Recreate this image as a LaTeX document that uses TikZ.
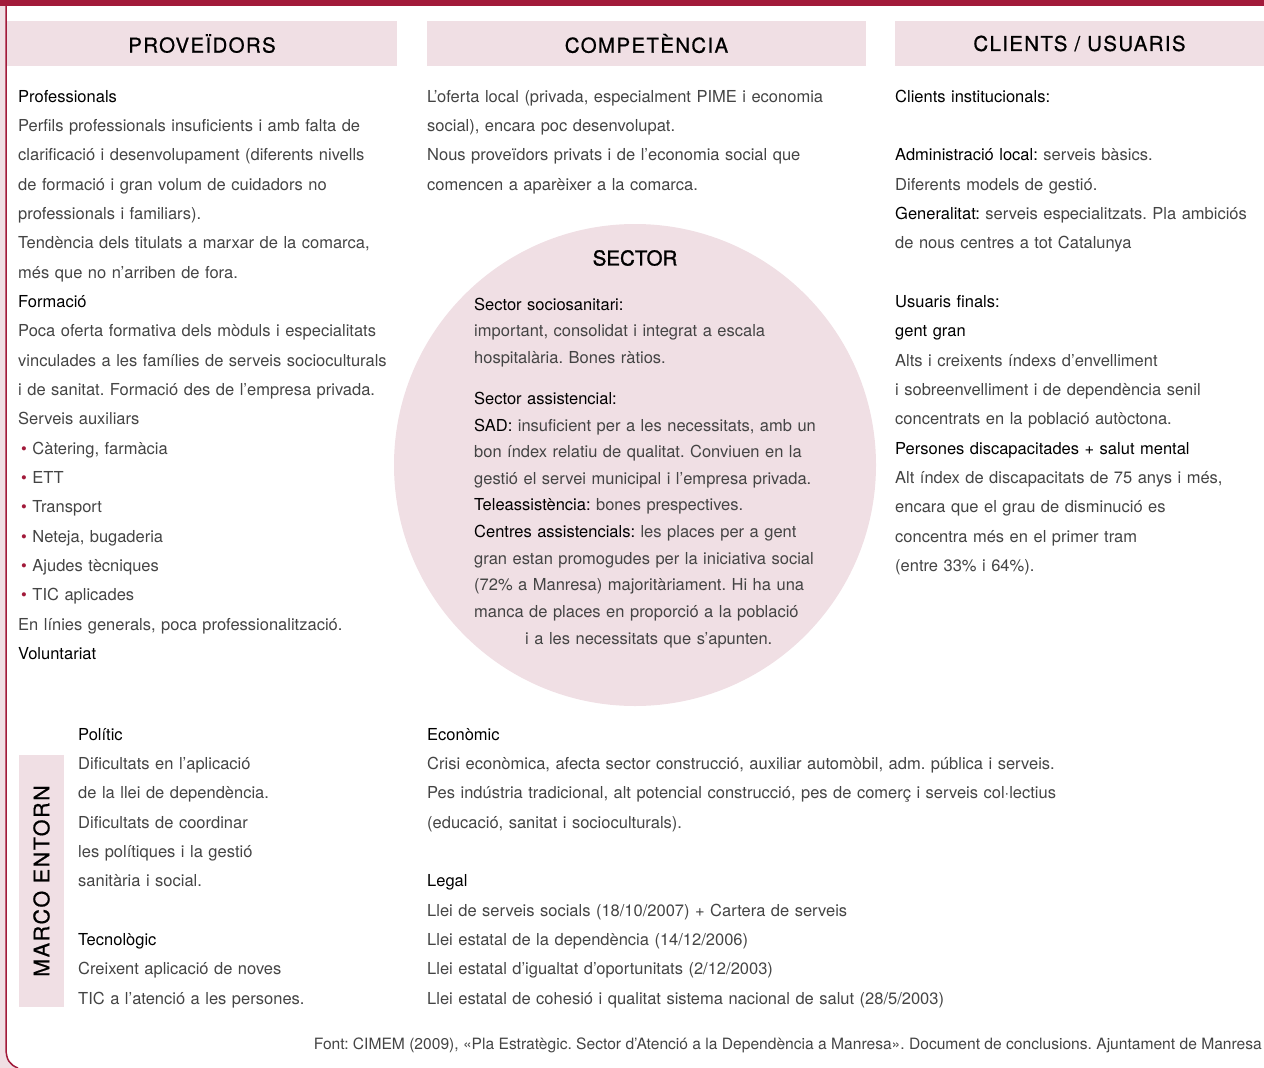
\documentclass[tikz,border=0pt]{standalone}
\usepackage{fontspec}
\setmainfont{TeX Gyre Heros}
\usetikzlibrary{positioning}

\definecolor{crimson}{RGB}{162,26,58}
\definecolor{pinkbg}{RGB}{240,223,228}
\definecolor{bodygray}{RGB}{68,68,68}

\newcommand{\hd}[1]{\textcolor{black}{#1}}
\newcommand{\bul}{\hspace*{3pt}\textcolor{crimson}{\textbullet}\ }
\frenchspacing

\tikzset{
  headbox/.style={fill=pinkbg, inner sep=0pt, text=black, font=\fontsize{20.5}{24}\selectfont\addfontfeature{LetterSpace=6.5,FakeBold=0.7}},
  txtblock/.style={anchor=base west, align=left, inner sep=0pt, text=bodygray, font=\fontsize{16.5}{29.35}\selectfont},
  circblock/.style={txtblock, font=\fontsize{16.5}{26.65}\selectfont},
}

\begin{document}
\begin{tikzpicture}[x=1pt, y=-1pt]
    \useasboundingbox (0,0) rectangle (1264,1068);

    % Frame
    \fill[crimson] (0,0) rectangle (1264,6);
    \fill[pinkbg] (0,6) -- (6,6) -- (6,1048) .. controls (6,1060) and (10,1065) .. (18,1068) -- (0,1068) -- cycle;
    \draw[crimson, line width=1.5pt] (6,6) -- (6,1048) .. controls (6,1060) and (10,1065) .. (18,1068);

    % Sector circle
    \fill[pinkbg] (635,465) circle (241pt);
    \node[font=\fontsize{20.5}{24}\selectfont\addfontfeature{FakeBold=1.2}, text=black] (sector) at (635,258) {SECTOR};
    \node[circblock, text width=370pt] (sectortxt) at (474,310) {\hd{Sector sociosanitari:}\\
        important, consolidat i integrat a escala\\
        hospitalària. Bones ràtios.\\[14.4pt]
        \hd{Sector assistencial:}\\
        \hd{SAD:} insuficient per a les necessitats, amb un\\
        bon índex relatiu de qualitat. Conviuen en la\\
        gestió el servei municipal i l’empresa privada.\\
        \hd{Teleassistència:} bones prespectives.\\
        \hd{Centres assistencials:} les places per a gent\\
        gran estan promogudes per la iniciativa social\\
        (72\% a Manresa) majoritàriament. Hi ha una\\
        manca de places en proporció a la població\\
        \hspace*{51pt}i a les necessitats que s’apunten.};

    % Headers
    \node[headbox, minimum width=390pt, minimum height=45pt] (prov) at (202,43.5) {PROVEÏDORS};
    \node[headbox, minimum width=439pt, minimum height=45pt] (comp) at (646.5,43.5) {COMPETÈNCIA};
    \node[headbox, minimum width=369pt, minimum height=45pt] (clients) at (1079.5,43.5) {CLIENTS / USUARIS};

    % Proveidors
    \node[txtblock, text width=385pt] (provtxt) at (18,102) {\hd{Professionals}\\
        Perfils professionals insuficients i amb falta de\\
        clarificació i desenvolupament (diferents nivells\\
        de formació i gran volum de cuidadors no\\
        professionals i familiars).\\
        Tendència dels titulats a marxar de la comarca,\\
        més que no n’arriben de fora.\\
        \hd{Formació}\\
        Poca oferta formativa dels mòduls i especialitats\\
        vinculades a les famílies de serveis socioculturals\\
        i de sanitat. Formació des de l’empresa privada.\\
        Serveis auxiliars\\
        \bul Càtering, farmàcia\\
        \bul ETT\\
        \bul Transport\\
        \bul Neteja, bugaderia\\
        \bul Ajudes tècniques\\
        \bul TIC aplicades\\
        En línies generals, poca professionalització.\\
        \hd{Voluntariat}};

    % Competencia
    \node[txtblock, text width=440pt] (comptxt) at (427,102) {L’oferta local (privada, especialment PIME i economia\\
        social), encara poc desenvolupat.\\
        Nous proveïdors privats i de l’economia social que\\
        comencen a aparèixer a la comarca.};

    % Clients / usuaris
    \node[txtblock, text width=369pt] (clitxt) at (895,102) {\hd{Clients institucionals:}\\[29.35pt]
        \hd{Administració local:} serveis bàsics.\\
        Diferents models de gestió.\\
        \hd{Generalitat:} serveis especialitzats. Pla ambiciós\\
        de nous centres a tot Catalunya\\[29.35pt]
        \hd{Usuaris finals:}\\
        \hd{gent gran}\\
        Alts i creixents índexs d’envelliment\\
        i sobreenvelliment i de dependència senil\\
        concentrats en la població autòctona.\\
        \hd{Persones discapacitades + salut mental}\\
        Alt índex de discapacitats de 75 anys i més,\\
        encara que el grau de disminució es\\
        concentra més en el primer tram\\
        (entre 33\% i 64\%).};

    % Marco entorn
    \node[headbox, rotate=90, minimum width=252pt, minimum height=45pt, font=\fontsize{21.5}{24}\selectfont\addfontfeature{LetterSpace=7.5,FakeBold=0.7}] (marco) at (41.5,881) {MARCO ENTORN};
    \node[txtblock, text width=320pt] (politic) at (78,740) {\hd{Polític}\\
        Dificultats en l’aplicació\\
        de la llei de dependència.\\
        Dificultats de coordinar\\
        les polítiques i la gestió\\
        sanitària i social.\\[29.35pt]
        \hd{Tecnològic}\\
        Creixent aplicació de noves\\
        TIC a l’atenció a les persones.};
    \node[txtblock, text width=820pt] (economic) at (427,740) {\hd{Econòmic}\\
        Crisi econòmica, afecta sector construcció, auxiliar automòbil, adm. pública i serveis.\\
        Pes indústria tradicional, alt potencial construcció, pes de comerç i serveis col·lectius\\
        (educació, sanitat i socioculturals).\\[29.35pt]
        \hd{Legal}\\
        Llei de serveis socials (18/10/2007) + Cartera de serveis\\
        Llei estatal de la dependència (14/12/2006)\\
        Llei estatal d’igualtat d’oportunitats (2/12/2003)\\
        Llei estatal de cohesió i qualitat sistema nacional de salut (28/5/2003)};

    % Source
    \node[anchor=base east, inner sep=0pt, text=bodygray, font=\fontsize{15.6}{18}\selectfont] (source) at (1262,1049) {Font: CIMEM (2009), «Pla Estratègic. Sector d’Atenció a la Dependència a Manresa». Document de conclusions. Ajuntament de Manresa};
\end{tikzpicture}
\end{document}
